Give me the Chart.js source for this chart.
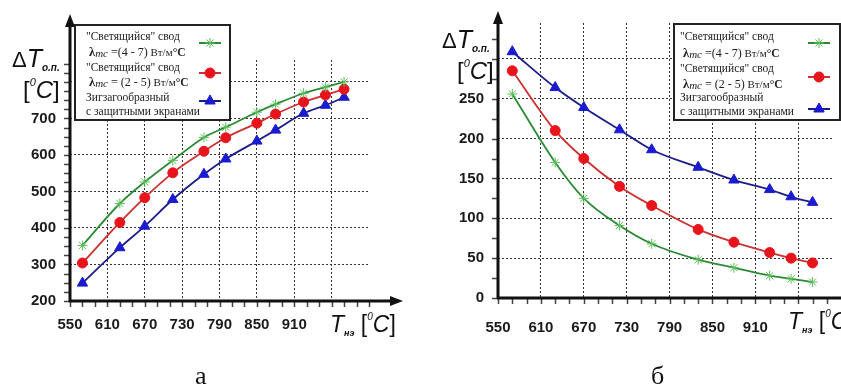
<!DOCTYPE html>
<html>
<head>
<meta charset="utf-8">
<script src="https://cdn.jsdelivr.net/npm/chart.js@4/dist/chart.umd.min.js"></script>
<style>
body { margin:0; background:#fff; }
#wrap { position:relative; width:841px; height:389px; overflow:hidden; background:#fff; }
#wrap canvas { position:absolute; top:0; }
#id_chart_a { left:0; }
#id_chart_b { left:420px; }
.caption { position:absolute; top:361px; font-family:"Liberation Serif", serif; font-size:26px; color:#111; }
</style>
</head>
<body>
<div id="wrap">
    <canvas id="id_chart_a" width="420" height="389"></canvas>
    <canvas id="id_chart_b" width="421" height="389"></canvas>
    <div class="caption" style="left:195px;">а</div>
    <div class="caption" style="left:651px;">б</div>
</div>
<script>
// --- данные (а) ---
var TEMP_A  = [570, 630, 670, 715, 765, 800, 850, 880, 925, 960, 990];
var GREEN_A = [352, 467, 526, 585, 648, 676, 717, 739, 769, 786, 800];
var RED_A   = [304, 415, 483, 551, 610, 647, 687, 712, 745, 764, 780];
var BLUE_A  = [249, 346, 405, 478, 547, 589, 638, 668, 714, 736, 758];

// --- данные (б) ---
var TEMP_B  = [570, 630, 670, 720, 765, 830, 880, 930, 960, 990];
var GREEN_B = [256, 170, 125, 91, 68, 48, 38, 28, 24, 20];
var RED_B   = [285, 210, 175, 140, 116, 86, 70, 57, 50, 44];
var BLUE_B  = [309, 264, 239, 211, 186, 164, 148, 136, 127, 120];

var X_TICKS   = [550, 610, 670, 730, 790, 850, 910];
var Y_TICKS_A = [200, 300, 400, 500, 600, 700];
var Y_TICKS_B = [0, 50, 100, 150, 200, 250];

var SERIES_NAMES = [
    '"Светящийся" свод λmc = (4 - 7) Вт/м°С',
    '"Светящийся" свод λmc = (2 - 5) Вт/м°С',
    'Зигзагообразный с защитными экранами'
];

var SERIF = '"Liberation Serif", "DejaVu Serif", serif';
var SANS = '"Liberation Sans", Arial, sans-serif';

var STYLES = [
    { line:'#2b8a34', point:'#5cbf5c', pointStyle:'star', radius:5, fill:'#5cbf5c' },
    { line:'#cc3030', point:'#e8141c', pointStyle:'circle', radius:5, fill:'#e8141c' },
    { line:'#1c1c88', point:'#1a1ad0', pointStyle:'triangle', radius:6, fill:'#1a1ad0' }
];

var _lambdaRuns = function( range ){
    return [
        ['λ', 'bold 12.5px ' + SERIF, 0],
        ['mc', 'italic 11px ' + SERIF, 1],
        [range, '12px ' + SERIF, 0],
        [' Вт/м', '11px ' + SERIF, 0],
        ['°С', 'bold 11.5px ' + SERIF, 0]
    ];
};
var LEGEND_ROWS = [
    [['"Светящийся" свод', '11.5px ' + SERIF, 0]],
    _lambdaRuns(' =(4 - 7)'),
    [['"Светящийся" свод', '11.5px ' + SERIF, 0]],
    _lambdaRuns(' = (2 - 5)'),
    [['Зигзагообразный', '11.5px ' + SERIF, 0]],
    [['с защитными экранами', '11.5px ' + SERIF, 0]]
];

var _drawRuns = function( ctx, x, y, runs ){
    runs.forEach(function( r ){
        ctx.font = r[1];
        ctx.fillText(r[0], x, y + r[2]);
        x += ctx.measureText(r[0]).width;
    });
    return x;
};

var _drawMarker = function( ctx, st, cx, cy ){
    ctx.strokeStyle = st.line;
    ctx.lineWidth = 2;
    ctx.beginPath();
    ctx.moveTo(cx - 11, cy);
    ctx.lineTo(cx + 11, cy);
    ctx.stroke();
    ctx.fillStyle = st.fill;
    ctx.strokeStyle = st.point;
    ctx.lineWidth = 1;
    Chart.helpers.drawPoint(ctx, {
        pointStyle : st.pointStyle,
        radius : st.radius,
        rotation : 0,
        borderWidth : 1
    }, cx, cy);
};

// ΔT, T и стрелки осей
var _axisPlugin = {
    id : 'axisDecor',
    beforeDatasetsDraw : function( chart, args, opts ){
        var ctx = chart.ctx, xs = chart.scales.x, ys = chart.scales.y;
        var ax = xs.left, ay = ys.bottom, v, p;
        ctx.save();
        // мелкие деления
        ctx.strokeStyle = '#444';
        ctx.lineWidth = 1.5;
        ctx.beginPath();
        for( v = ys.min; v <= ys.max; v += opts.yMinor ){
            p = Math.round(ys.getPixelForValue(v)) + 0.5;
            ctx.moveTo(ax - 6, p);
            ctx.lineTo(ax, p);
        }
        for( v = xs.min; v <= xs.max; v += 20 ){
            p = Math.round(xs.getPixelForValue(v)) + 0.5;
            ctx.moveTo(p, ay);
            ctx.lineTo(p, ay + 6);
        }
        ctx.stroke();
        // оси
        ctx.strokeStyle = '#111';
        ctx.fillStyle = '#111';
        ctx.lineWidth = 3;
        ctx.beginPath();
        ctx.moveTo(ax, ay + 1);
        ctx.lineTo(ax, opts.yArrow + 10);
        ctx.moveTo(ax - 1, ay);
        ctx.lineTo(opts.xArrow - 10, ay);
        ctx.stroke();
        ctx.beginPath();
        ctx.moveTo(ax, opts.yArrow);
        ctx.lineTo(ax - 5, opts.yArrow + 13);
        ctx.lineTo(ax + 5, opts.yArrow + 13);
        ctx.closePath();
        ctx.moveTo(opts.xArrow, ay);
        ctx.lineTo(opts.xArrow - 13, ay - 5);
        ctx.lineTo(opts.xArrow - 13, ay + 5);
        ctx.closePath();
        ctx.fill();
        ctx.restore();
    },
    afterDraw : function( chart, args, opts ){
        var ctx = chart.ctx, lg = opts.legend;
        ctx.save();
        ctx.fillStyle = '#111';
        ctx.textBaseline = 'alphabetic';
        // ΔT о.п. [°C]
        _drawRuns(ctx, opts.dt[0], opts.dt[1], [
            ['Δ', '22px ' + SANS, 0],
            ['T', 'italic 25px ' + SANS, 0],
            ['о.п.', 'bold italic 10px ' + SANS, 4]
        ]);
        _drawRuns(ctx, opts.dt[2], opts.dt[3], [
            ['[', '24px ' + SANS, 0],
            ['0', 'italic 11px ' + SANS, -12],
            ['C', 'italic 24px ' + SANS, 0],
            [']', '24px ' + SANS, 0]
        ]);
        // Tнэ [°C]
        _drawRuns(ctx, opts.tn[0], opts.tn[1], [
            ['T', 'italic 23px ' + SANS, 0],
            ['нэ', 'bold italic 9px ' + SANS, 4],
            [' [', '23px ' + SANS, 0],
            ['0', 'italic 10px ' + SANS, -12],
            ['C', 'italic 23px ' + SANS, 0],
            [']', '23px ' + SANS, 0]
        ]);
        // легенда
        ctx.fillStyle = '#fff';
        ctx.fillRect(lg.box[0], lg.box[1], lg.box[2] - lg.box[0], lg.box[3] - lg.box[1]);
        ctx.strokeStyle = '#222';
        ctx.lineWidth = 2;
        ctx.strokeRect(lg.box[0], lg.box[1], lg.box[2] - lg.box[0], lg.box[3] - lg.box[1]);
        ctx.fillStyle = '#222';
        LEGEND_ROWS.forEach(function( runs, i ){
            var indent = (i === 1 || i === 3) ? 3 : 0;
            _drawRuns(ctx, lg.box[0] + lg.pad + indent, lg.box[1] + lg.rowY[i], runs);
        });
        STYLES.forEach(function( st, i ){
            _drawMarker(ctx, st, lg.box[2] - lg.markerX, lg.box[1] + lg.markerY[i]);
        });
        ctx.restore();
    }
};

var _makeChart = function( canvasId, temps, seriesList, cfg ){
    var ctx = document.getElementById(canvasId).getContext('2d');
    var datasets = seriesList.map(function( values, i ){
        var st = STYLES[i];
        return {
            label : SERIES_NAMES[i],
            data : temps.map(function( t, k ){ return { x : t, y : values[k] }; }),
            borderColor : st.line,
            borderWidth : 1.8,
            backgroundColor : st.fill,
            pointStyle : st.pointStyle,
            pointRadius : st.radius,
            pointBorderColor : st.point,
            pointBackgroundColor : st.fill,
            pointBorderWidth : 1,
            cubicInterpolationMode : 'monotone',
            fill : false
        };
    });
    return new Chart(ctx, {
        type : 'line',
        data : { datasets : datasets },
        plugins : [_axisPlugin],
        options : {
            responsive : false,
            animation : false,
            layout : { padding : { left : 0, top : cfg.top, right : cfg.right, bottom : 0 } },
            plugins : {
                legend : { display : false },
                tooltip : { enabled : false },
                axisDecor : cfg.decor
            },
            scales : {
                x : {
                    type : 'linear',
                    min : 550,
                    max : cfg.xMax,
                    afterBuildTicks : function( s ){
                        var t = [], v;
                        for( v = 550; v < cfg.xMax - 5; v += 60 ){ t.push({ value : v }); }
                        s.ticks = t;
                    },
                    afterFit : function( s ){ s.height = cfg.xHeight; },
                    grid : {
                        drawTicks : false,
                        lineWidth : 1,
                        color : function( c ){ return c.tick && c.tick.value === 550 ? 'rgba(0,0,0,0)' : '#333'; }
                    },
                    border : { display : false, dash : [2, 2] },
                    ticks : {
                        padding : cfg.xPad,
                        color : '#1a1a1a',
                        font : { family : SANS, size : 15, weight : 'bold' },
                        maxRotation : 0,
                        autoSkip : false,
                        callback : function( v ){ return X_TICKS.indexOf(v) >= 0 ? String(v) : ''; }
                    }
                },
                y : {
                    min : cfg.yMin,
                    max : cfg.yMax,
                    afterBuildTicks : function( s ){
                        var t = [], v;
                        for( v = cfg.yMin; v < cfg.yMax - 5; v += cfg.yStep ){ t.push({ value : v }); }
                        s.ticks = t;
                    },
                    afterFit : function( s ){ s.width = cfg.yWidth; },
                    grid : {
                        drawTicks : false,
                        lineWidth : 1,
                        color : function( c ){ return c.tick && c.tick.value === cfg.yMin ? 'rgba(0,0,0,0)' : '#333'; }
                    },
                    border : { display : false, dash : [2, 2] },
                    ticks : {
                        padding : 14,
                        color : '#1a1a1a',
                        font : { family : SANS, size : 15, weight : 'bold' },
                        autoSkip : false,
                        callback : function( v ){ return cfg.yLabels.indexOf(v) >= 0 ? String(v) : ''; }
                    }
                }
            }
        }
    });
};

window.onload = function(){
    _makeChart('id_chart_a', TEMP_A, [GREEN_A, RED_A, BLUE_A], {
        top : 60, right : 51, xMax : 1030, xHeight : 88, xPad : 15,
        yMin : 200, yMax : 860, yStep : 100, yWidth : 70, yLabels : Y_TICKS_A,
        decor : {
            yMinor : 25, yArrow : 14, xArrow : 403,
            dt : [12, 67, 23, 98],
            tn : [330, 332],
            legend : { box : [75, 25, 230, 120], pad : 11, markerX : 20,
                       rowY : [15, 31, 46, 61, 76, 90], markerY : [18, 48, 76] }
        }
    });
    _makeChart('id_chart_b', TEMP_B, [GREEN_B, RED_B, BLUE_B], {
        top : 23, right : 0, xMax : 1020, xHeight : 91, xPad : 21,
        yMin : 0, yMax : 345, yStep : 50, yWidth : 78, yLabels : Y_TICKS_B,
        decor : {
            yMinor : 25, yArrow : 11, xArrow : 440,
            dt : [22, 48, 37, 79],
            tn : [368, 329],
            legend : { box : [254, 24, 420, 120], pad : 6, markerX : 21,
                       rowY : [16, 33, 48, 64, 77, 91], markerY : [19, 53, 85] }
        }
    });
};
</script>
</body>
</html>
